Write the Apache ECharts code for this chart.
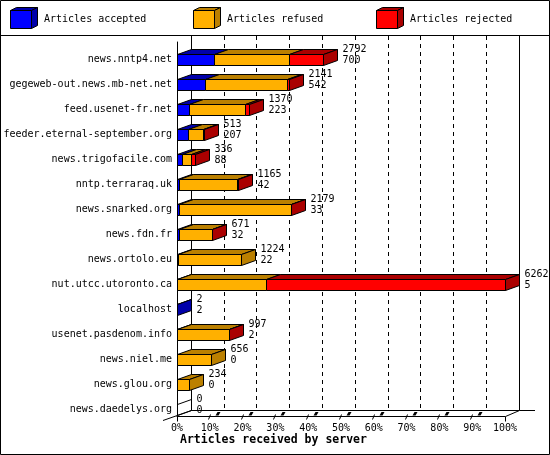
<!DOCTYPE html>
<html><head><meta charset="utf-8">
<script src="https://cdn.jsdelivr.net/npm/echarts/dist/echarts.min.js"></script>
<style>html,body{margin:0;padding:0;background:#fff}#c{width:550px;height:455px}</style>
</head><body><div id="c"></div>
<script>
const categories = ['news.nntp4.net','gegeweb-out.news.mb-net.net','feed.usenet-fr.net','feeder.eternal-september.org','news.trigofacile.com','nntp.terraraq.uk','news.snarked.org','news.fdn.fr','news.ortolo.eu','nut.utcc.utoronto.ca','localhost','usenet.pasdenom.info','news.niel.me','news.glou.org','news.daedelys.org'];
const totals   = [2792, 2141, 1370, 513, 336, 1165, 2179, 671, 1224, 6262, 2, 997, 656, 234, 0];
const accepted = [700, 542, 223, 207, 88, 42, 33, 32, 22, 5, 2, 2, 0, 0, 0];
const refused  = [1431, 1555, 1070, 281, 174, 1111, 2136, 631, 1202, 1685, 0, 989, 656, 234, 0];
const rejected = [661, 44, 77, 25, 74, 12, 10, 8, 0, 4572, 0, 6, 0, 0, 0];
const seriesNames = ['Articles accepted', 'Articles refused', 'Articles rejected'];
const pctTicks = [0, 10, 20, 30, 40, 50, 60, 70, 80, 90, 100];
const axisTitle = 'Articles received by server';

const FONT = 'DejaVu Sans Mono';
const frontColors = ['#0000ff', '#ffb000', '#ff0000'];
const sideColors = ['#0000aa', '#bb8000', '#aa0000'];
const DX = 14, DY = -5, H = 11;
const xMax = Math.max.apply(null, totals);

const chart = echarts.init(document.getElementById('c'), null, {renderer: 'canvas'});
const barData = categories.map((c, i) => [i, accepted[i], refused[i], rejected[i], totals[i]]);
const snap = v => Math.round(v) + 0.5;
const LS = {stroke: '#000', lineWidth: 1};

function renderBar(params, api) {
  const i = api.value(0);
  const vals = [api.value(1), api.value(2), api.value(3)];
  const tot = api.value(4);
  const yc = api.coord([0, i])[1];
  const yt = snap(yc - H / 2), yb = yt + H;
  const cum = [0, vals[0], vals[0] + vals[1], vals[0] + vals[1] + vals[2]];
  const xs = cum.map(v => snap(api.coord([v, i])[0]));
  const ch = [];
  let last = -1;
  for (let k = 0; k < 3; k++) {
    if (vals[k] <= 0) continue;
    last = k;
    const x0 = xs[k], x1 = xs[k + 1];
    ch.push({type: 'rect', shape: {x: x0, y: yt, width: x1 - x0, height: H},
      style: Object.assign({fill: frontColors[k]}, LS)});
    ch.push({type: 'polygon', shape: {points: [[x0, yt], [x1, yt], [x1 + DX, yt + DY], [x0 + DX, yt + DY]]},
      style: Object.assign({fill: sideColors[k]}, LS)});
  }
  const xe = xs[3];
  const side = [[xe, yt], [xe + DX, yt + DY], [xe + DX, yb + DY], [xe, yb]];
  if (last >= 0) {
    ch.push({type: 'polygon', shape: {points: side}, style: Object.assign({fill: sideColors[last]}, LS)});
  } else {
    ch.push({type: 'polygon', shape: {points: side}, style: Object.assign({fill: 'none'}, LS)});
  }
  const tx = xe + DX + 5;
  ch.push({type: 'text', style: {text: String(tot), x: tx, y: yc - 10, fill: '#000', font: '10px ' + FONT, verticalAlign: 'middle', align: 'left'}});
  ch.push({type: 'text', style: {text: String(api.value(1)), x: tx, y: yc + 0.5, fill: '#000', font: '10px ' + FONT, verticalAlign: 'middle', align: 'left'}});
  return {type: 'group', children: ch};
}

function renderTick(params, api) {
  const p = api.coord([api.value(0), 0]);
  const x = snap(p[0]), y = Math.round(p[1]) + 0.5;
  const idx = params.dataIndex;
  if (idx === 0 || idx === pctTicks.length - 1) {
    return {type: 'line', shape: {x1: x, y1: y, x2: x, y2: y + 5}, style: LS};
  }
  return {type: 'group', children: [
    {type: 'line', shape: {x1: x - 2, y1: y + 3, x2: x, y2: y - 2}, style: LS},
    {type: 'polygon', shape: {points: [[x + 5, y - 1], [x + 7, y - 4.5], [x + 10, y - 4.5], [x + 8, y - 1]]}, style: {fill: '#000'}}
  ]};
}

const legendX = [10, 193, 376];
const graphics = [
  {type: 'rect', shape: {x: 0.5, y: 0.5, width: 549, height: 454}, style: {fill: 'none', stroke: '#000', lineWidth: 1}, z: 100, silent: true},
  {type: 'line', shape: {x1: 0, y1: 35.5, x2: 550, y2: 35.5}, style: LS, silent: true},
  {type: 'line', shape: {x1: 163, y1: 420.5, x2: 191.5, y2: 410.5}, style: LS, silent: true},
  {type: 'line', shape: {x1: 505.5, y1: 416.5, x2: 519.5, y2: 410.5}, style: LS, silent: true},
  {type: 'line', shape: {x1: 519.5, y1: 410.5, x2: 535, y2: 410.5}, style: LS, silent: true},
  {type: 'text', left: 180, top: 434, style: {text: axisTitle, fill: '#000', font: 'bold 11.5px ' + FONT}, silent: true}
];
seriesNames.forEach((n, k) => {
  const x = legendX[k] + 0.5, y = 10.5, w = 21, h = 18, dx = 6, dy = -3;
  graphics.push({type: 'polygon', shape: {points: [[x, y], [x + w, y], [x + w + dx, y + dy], [x + dx, y + dy]]}, style: Object.assign({fill: sideColors[k]}, LS), silent: true});
  graphics.push({type: 'polygon', shape: {points: [[x + w, y], [x + w + dx, y + dy], [x + w + dx, y + h + dy], [x + w, y + h]]}, style: Object.assign({fill: sideColors[k]}, LS), silent: true});
  graphics.push({type: 'rect', shape: {x: x, y: y, width: w, height: h}, style: Object.assign({fill: frontColors[k]}, LS), silent: true});
  graphics.push({type: 'text', left: legendX[k] + 34, top: 14, style: {text: n, fill: '#000', font: '10px ' + FONT}, silent: true});
});

const hiddenAxis = {axisLine: {show: false}, axisTick: {show: false}, axisLabel: {show: false}, splitLine: {show: false}};

chart.setOption({
  animation: false,
  backgroundColor: '#fff',
  grid: [
    {left: 177, top: 47, width: 328, height: 375},
    {left: 177, top: 42, width: 328, bottom: 39},
    {left: 191, top: 36, width: 328, bottom: 45}
  ],
  xAxis: [
    Object.assign({type: 'value', gridIndex: 0, min: 0, max: xMax}, hiddenAxis),
    {type: 'value', gridIndex: 1, min: 0, max: 100, interval: 10,
      axisLine: {show: true, lineStyle: {color: '#000', width: 1}}, axisTick: {show: false},
      splitLine: {show: false},
      axisLabel: {show: true, margin: 7, color: '#000', fontFamily: FONT, fontSize: 10, formatter: '{value}%'}},
    {type: 'value', gridIndex: 2, min: 0, max: 100, interval: 10,
      axisLine: {show: true, onZero: false, lineStyle: {color: '#000', width: 1}}, axisTick: {show: false}, axisLabel: {show: false},
      splitLine: {show: true, lineStyle: {color: '#000', width: 1, type: [4, 4]}}}
  ],
  yAxis: [
    {type: 'category', gridIndex: 0, inverse: true, data: categories,
      axisLine: {show: false}, axisTick: {show: false}, splitLine: {show: false},
      axisLabel: {margin: 5, color: '#000', fontFamily: FONT, fontSize: 10}},
    {type: 'value', gridIndex: 1, min: 0, max: 1, axisLine: {show: true, lineStyle: {color: '#000', width: 1}},
      axisTick: {show: false}, axisLabel: {show: false}, splitLine: {show: false}},
    {type: 'value', gridIndex: 2, min: 0, max: 1, position: 'left', axisLine: {show: true, onZero: false, lineStyle: {color: '#000', width: 1}},
      axisTick: {show: false}, axisLabel: {show: false}, splitLine: {show: false}},
    {type: 'value', gridIndex: 2, min: 0, max: 1, position: 'right', axisLine: {show: true, onZero: false, lineStyle: {color: '#000', width: 1}},
      axisTick: {show: false}, axisLabel: {show: false}, splitLine: {show: false}}
  ],
  series: [
    {type: 'custom', name: 'bars', xAxisIndex: 0, yAxisIndex: 0, clip: false, z: 10,
      renderItem: renderBar, encode: {x: 4, y: 0}, data: barData},
    {type: 'custom', name: 'ticks', xAxisIndex: 1, yAxisIndex: 1, clip: false, z: 5,
      renderItem: renderTick, encode: {x: 0}, data: pctTicks.map(v => [v])}
  ],
  graphic: {elements: graphics}
});
</script></body></html>
